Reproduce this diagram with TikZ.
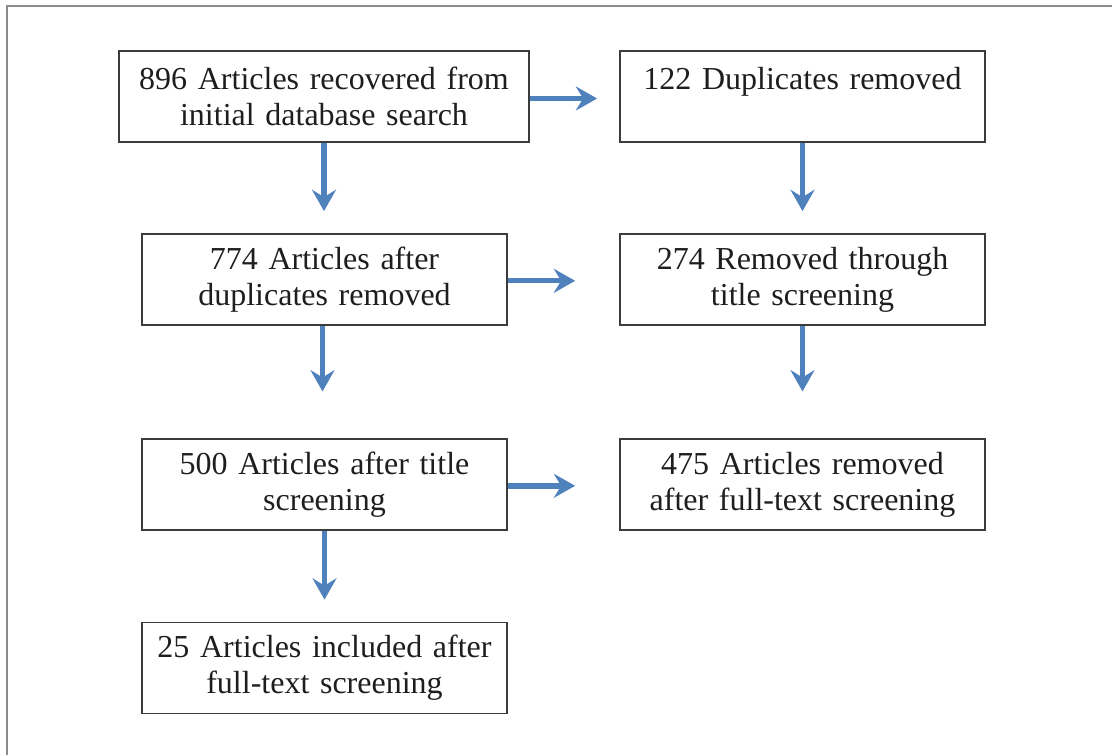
\documentclass[tikz,border=0pt]{standalone}
\usepackage{fontspec}
\setmainfont[WordSpace=0.8]{Liberation Serif}
\usetikzlibrary{arrows.meta}
\definecolor{arrblue}{RGB}{79,129,189}
\definecolor{boxline}{RGB}{60,60,60}
\definecolor{frameline}{RGB}{140,140,140}
\definecolor{txt}{RGB}{30,30,30}
\tikzset{
  box/.style={draw=boxline, line width=1.3pt, rectangle, inner sep=0pt,
    minimum height=68.25pt, align=center, text=txt,
    font=\fontsize{24pt}{27pt}\selectfont},
  wide/.style={minimum width=307.5pt, text width=300pt},
  std/.style={minimum width=273.75pt, text width=270pt},
  arr/.style={draw=arrblue, line width=4pt,
    -{Stealth[length=16pt,width=18pt,inset=5.5pt]}},
}
\begin{document}
\begin{tikzpicture}[x=0.75pt,y=-0.75pt]
\useasboundingbox (0,0) rectangle (1112,755);
\draw[frameline, line width=1.5pt] (7,755) -- (7,6.5) -- (1112,6.5);
\node[box,wide] (b1) at (324,96.5) {896 Articles recovered from\\initial database search};
\node[box,std] (b2) at (802.5,96.5) {122 Duplicates removed\\\mbox{}};
\node[box,std] (b3) at (324.5,279.5) {774 Articles after\\duplicates removed};
\node[box,std] (b4) at (802.5,279.5) {274 Removed through\\title screening};
\node[box,std] (b5) at (324.5,484.5) {500 Articles after title\\screening};
\node[box,std] (b6) at (802.5,484.5) {475 Articles removed\\after full-text screening};
\node[box,std] (b7) at (324.5,668) {25 Articles included after\\full-text screening};
\draw[arr, shorten >=16.5pt] ([yshift=-1.5pt]b1.east) -- ([yshift=-1.5pt]b2.west);
\draw[arr, shorten >=33pt] ([yshift=-1pt]b3.east) -- ([yshift=-1pt]b4.west);
\draw[arr, shorten >=33pt] ([yshift=-1pt]b5.east) -- ([yshift=-1pt]b6.west);
\draw[arr, shorten >=16.5pt] (b1.south) -- (b1.south |- b3.north);
\draw[arr, shorten >=16.5pt] (b2.south) -- (b4.north);
\draw[arr, shorten >=35pt] ([xshift=-1.5pt]b3.south) -- ([xshift=-1.5pt]b5.north);
\draw[arr, shorten >=35pt] (b4.south) -- (b6.north);
\draw[arr, shorten >=16.5pt] (b5.south) -- (b7.north);
\end{tikzpicture}
\end{document}
